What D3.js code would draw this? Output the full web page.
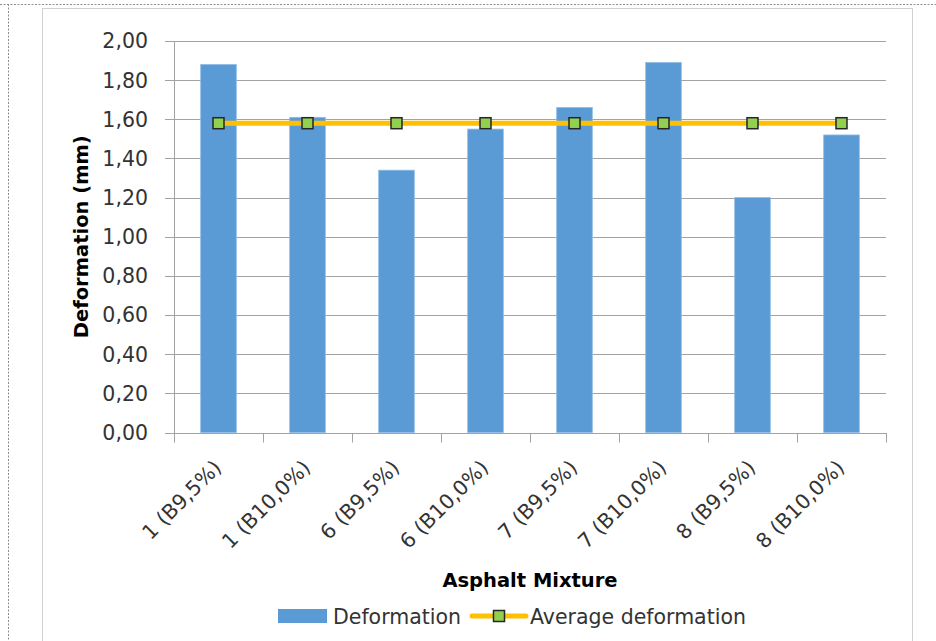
<!DOCTYPE html>
<html><head><meta charset="utf-8">
<script src="https://cdn.jsdelivr.net/npm/d3@7/dist/d3.min.js"></script>
<style>html,body{margin:0;padding:0;background:#fff;}svg{display:block;}</style>
</head><body>
<script>
const categories = ["1 (B9,5%)","1 (B10,0%)","6 (B9,5%)","6 (B10,0%)","7 (B9,5%)","7 (B10,0%)","8 (B9,5%)","8 (B10,0%)"];
const deformation = [1.88,1.61,1.34,1.55,1.66,1.89,1.20,1.52];
const averageDeformation = [1.58,1.58,1.58,1.58,1.58,1.58,1.58,1.58];
const yTicks = [0,0.2,0.4,0.6,0.8,1.0,1.2,1.4,1.6,1.8,2.0];
const seriesNames = ["Deformation","Average deformation"];
const xTitle = "Asphalt Mixture";
const yTitle = "Deformation (mm)";

const W = 936, H = 641;
const FONT = "DejaVu Sans";
const svg = d3.select("body").append("svg").attr("width", W).attr("height", H);

// frames
svg.append("line").attr("x1",0).attr("x2",W).attr("y1",4.5).attr("y2",4.5)
  .attr("stroke","#8c8c8c").attr("stroke-dasharray","2,1.5").attr("stroke-width",1);
svg.append("line").attr("x1",8.5).attr("x2",8.5).attr("y1",4).attr("y2",H)
  .attr("stroke","#8c8c8c").attr("stroke-dasharray","2,1.5").attr("stroke-width",1);
svg.append("rect").attr("x",42.5).attr("y",8.5).attr("width",870).attr("height",H)
  .attr("fill","none").attr("stroke","#d0d0d0").attr("stroke-width",1);

const x = d3.scaleBand().domain(categories).range([174, 886]).paddingInner(0.6).paddingOuter(0.3);
const y = d3.scaleLinear().domain([0, 2]).range([432.5, 41]);
const fmt = v => d3.format(".2f")(v).replace(".", ",");

// gridlines
svg.append("g").selectAll("line").data(yTicks).join("line")
  .attr("x1",165).attr("x2",886)
  .attr("y1",d=>Math.round(y(d))+0.5).attr("y2",d=>Math.round(y(d))+0.5)
  .attr("stroke","#a3a3a3").attr("stroke-width",1);

// y axis line
svg.append("line").attr("x1",174.5).attr("x2",174.5).attr("y1",y(2)).attr("y2",Math.round(y(0))+9.5)
  .attr("stroke","#a3a3a3").attr("stroke-width",1);

// y tick labels
svg.append("g").selectAll("text").data(yTicks).join("text")
  .attr("x",148).attr("y",d=>y(d)).attr("dy","0.36em")
  .attr("text-anchor","end").attr("font-family",FONT).attr("font-size",20.5)
  .attr("fill","#333").text(d=>fmt(d));

// bars
svg.append("g").selectAll("rect").data(deformation).join("rect")
  .attr("x",(d,i)=>x(categories[i])).attr("width",x.bandwidth())
  .attr("y",d=>y(d)).attr("height",d=>y(0)-y(d))
  .attr("fill","#5B9BD5").attr("stroke","#8dbbe6").attr("stroke-width",0.8);

// x axis line + ticks
svg.append("line").attr("x1",174).attr("x2",886.5).attr("y1",Math.round(y(0))+0.5).attr("y2",Math.round(y(0))+0.5)
  .attr("stroke","#a3a3a3").attr("stroke-width",1);
const step = x.step();
const bounds = d3.range(categories.length+1).map(i => 174 + i*step);
svg.append("g").selectAll("line").data(bounds).join("line")
  .attr("x1",d=>Math.round(d)+0.5).attr("x2",d=>Math.round(d)+0.5)
  .attr("y1",Math.round(y(0))).attr("y2",Math.round(y(0))+9.5)
  .attr("stroke","#a3a3a3").attr("stroke-width",1);

// x tick labels
svg.append("g").selectAll("text").data(categories).join("text")
  .attr("transform",d=>`translate(${x(d)+x.bandwidth()/2-1},${y(0)+31}) rotate(-45)`)
  .attr("text-anchor","end").attr("dy","0.36em")
  .attr("font-family",FONT).attr("font-size",20.5).attr("fill","#333").text(d=>d);

// average line
const cx = (d,i) => x(categories[i]) + x.bandwidth()/2;
svg.append("path").datum(averageDeformation)
  .attr("d", d3.line().x(cx).y(d=>y(d)))
  .attr("fill","none").attr("stroke","#FFC000").attr("stroke-width",5);
const ms = 11;
svg.append("g").selectAll("rect").data(averageDeformation).join("rect")
  .attr("x",(d,i)=>cx(d,i)-ms/2).attr("y",d=>y(d)-ms/2)
  .attr("width",ms).attr("height",ms)
  .attr("fill","#92D050").attr("stroke","#262626").attr("stroke-width",1.5);

// axis titles
svg.append("text").attr("x",530).attr("y",587).attr("text-anchor","middle")
  .attr("font-family",FONT).attr("font-weight","bold").attr("font-size",19.5)
  .attr("fill","#000").text(xTitle);
svg.append("text").attr("transform",`translate(88,${(y(0)+y(2))/2}) rotate(-90)`)
  .attr("text-anchor","middle")
  .attr("font-family",FONT).attr("font-weight","bold").attr("font-size",19.5)
  .attr("fill","#000").text(yTitle);

// legend
const lg = svg.append("g");
lg.append("rect").attr("x",278).attr("y",609).attr("width",49).attr("height",14).attr("fill","#5B9BD5");
lg.append("text").attr("x",333).attr("y",624).attr("font-family",FONT).attr("font-size",20.5)
  .attr("fill","#333").text(seriesNames[0]);
lg.append("line").attr("x1",472).attr("x2",526).attr("y1",616).attr("y2",616)
  .attr("stroke","#FFC000").attr("stroke-width",5).attr("stroke-linecap","round");
lg.append("rect").attr("x",499-ms/2).attr("y",616-ms/2).attr("width",ms).attr("height",ms)
  .attr("fill","#92D050").attr("stroke","#262626").attr("stroke-width",1.5);
lg.append("text").attr("x",530).attr("y",624).attr("font-family",FONT).attr("font-size",20.5)
  .attr("fill","#333").text(seriesNames[1]);
</script>
</body></html>
